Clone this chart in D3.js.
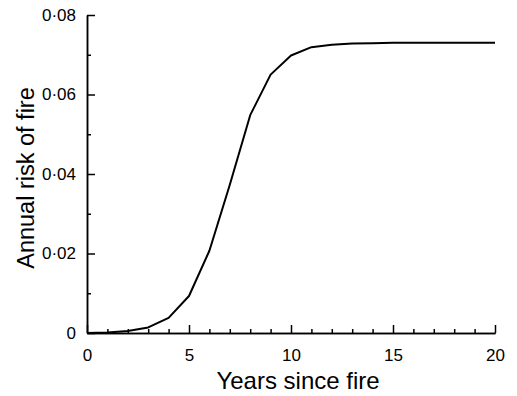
<!DOCTYPE html>
<html>
<head>
<meta charset="utf-8">
<script src="https://cdn.jsdelivr.net/npm/d3@7"></script>
<style>
  body { margin: 0; background: #fff; }
  svg text { font-family: "Liberation Sans", Arial, sans-serif; fill: #000; }
  .axis path, .axis line { stroke: #000; stroke-width: 1.5; }
</style>
</head>
<body>
<svg id="plot"></svg>
<script>
// years since fire and annual risk
var years = [0, 1, 2, 3, 4, 5, 6, 7, 8, 9, 10, 11, 12, 13, 14, 15, 16, 17, 18, 19, 20];
var risk = [0, 0.0001, 0.0005, 0.0014, 0.0038, 0.0093, 0.0207, 0.0373, 0.0548, 0.065,
            0.0698, 0.0719, 0.0725, 0.0728, 0.0729, 0.073, 0.073, 0.073, 0.073, 0.073, 0.073];
var xMajor = [0, 5, 10, 15, 20];
var xMinor = [1, 2, 3, 4, 6, 7, 8, 9, 11, 12, 13, 14, 16, 17, 18, 19];
var yMajor = [0, 0.02, 0.04, 0.06, 0.08];
var yMinor = [0.01, 0.03, 0.05, 0.07];

var width = 517, height = 396;
var padLeft = 87, padRight = 495, padTop = 15, padBottom = 333;

var svg = d3.select('#plot')
  .attr('width', width)
  .attr('height', height);

var x = d3.scaleLinear().domain([0, 20]).range([padLeft, padRight]);
var y = d3.scaleLinear().domain([0, 0.08]).range([padBottom, padTop]);

var fmt = d => d === 0 ? '0' : d3.format('.2f')(d).replace('.', '\u00b7');

// minor ticks first, then the major ones with labels
svg.append('g')
  .attr('class', 'axis')
  .attr('transform', 'translate(0,' + padBottom + ')')
  .call(d3.axisBottom(x).tickValues(xMinor).tickSize(-4).tickSizeOuter(0).tickFormat(''));
svg.append('g')
  .attr('class', 'axis')
  .attr('transform', 'translate(' + padLeft + ',0)')
  .call(d3.axisLeft(y).tickValues(yMinor).tickSize(-4).tickSizeOuter(0).tickFormat(''));

var xAxis = svg.append('g')
  .attr('class', 'axis')
  .attr('transform', 'translate(0,' + padBottom + ')')
  .call(d3.axisBottom(x).tickValues(xMajor).tickSize(-8).tickSizeOuter(0).tickPadding(16));
xAxis.selectAll('text').style('font-size', '17px');

var yAxis = svg.append('g')
  .attr('class', 'axis')
  .attr('transform', 'translate(' + padLeft + ',0)')
  .call(d3.axisLeft(y).tickValues(yMajor).tickSize(-8).tickSizeOuter(0).tickPadding(11).tickFormat(fmt));
yAxis.selectAll('text').style('font-size', '17px');

svg.append('text')
  .attr('x', 298)
  .attr('y', 389)
  .style('text-anchor', 'middle')
  .style('font-size', '24px')
  .text('Years since fire');
svg.append('text')
  .attr('transform', 'rotate(-90)')
  .attr('x', -178)
  .attr('y', 34)
  .style('text-anchor', 'middle')
  .style('font-size', '23.5px')
  .text('Annual risk of fire');

var line = d3.line()
  .x((d, i) => x(years[i]))
  .y(d => y(d));

svg.append('path')
  .datum(risk)
  .attr('fill', 'none')
  .attr('stroke', '#000')
  .attr('stroke-width', 2)
  .attr('stroke-linejoin', 'round')
  .attr('d', line);
</script>
</body>
</html>
